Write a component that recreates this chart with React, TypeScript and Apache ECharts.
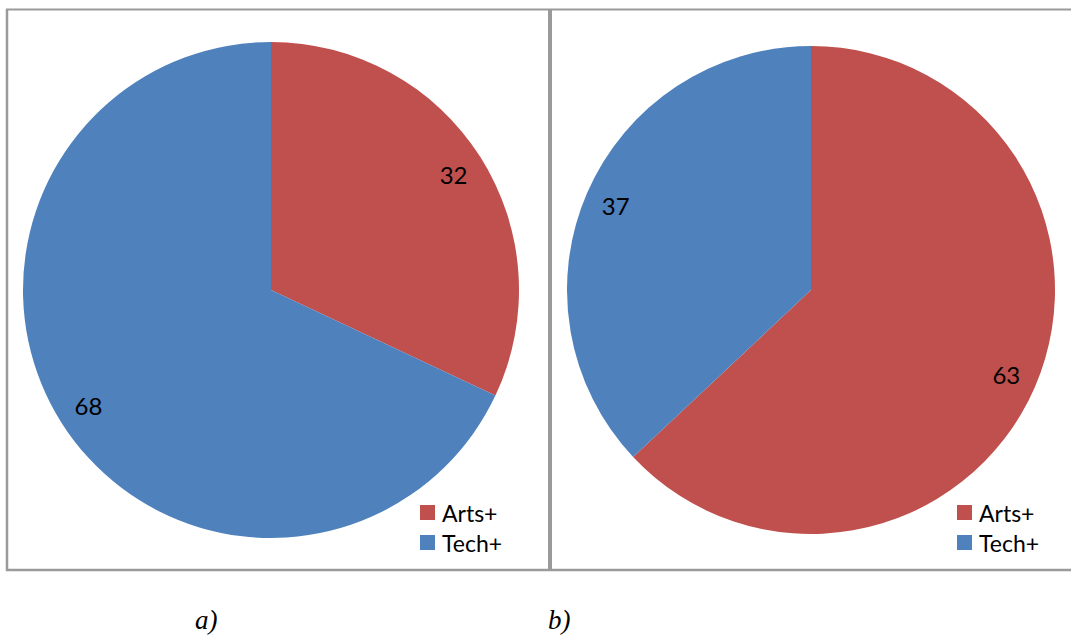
import React, { useEffect, useRef } from "react";
import * as echarts from "echarts";

const categories = ["Arts+", "Tech+"];
const valuesA = [32, 68];
const valuesB = [63, 37];
const captions = ["a)", "b)"];
const colors = ["#C0504D", "#4F81BD"];

const W = 1071;
const H = 637;
const FONT = "Lato, 'Noto Sans', sans-serif";
const BORDER = "#9a9a9a";

function pieData(values: number[]) {
  return categories.map((name, i) => ({ name, value: values[i], itemStyle: { color: colors[i] } }));
}

function basePie(values: number[], center: [number, number], r: number) {
  return {
    type: "pie",
    center,
    radius: [0, r],
    startAngle: 90,
    clockwise: true,
    label: { show: false },
    labelLine: { show: false },
    itemStyle: { borderWidth: 0 },
    emphasis: { disabled: true },
    data: pieData(values),
  };
}

// transparent ring that only carries the value labels near the rim
function labelRing(values: number[], center: [number, number], r: number) {
  return {
    type: "pie",
    center,
    radius: [r * 0.72, r],
    startAngle: 90,
    clockwise: true,
    silent: true,
    label: {
      show: true,
      position: "inside",
      formatter: "{c}",
      color: "#000",
      fontSize: 24,
      fontFamily: FONT,
    },
    labelLine: { show: false },
    itemStyle: { color: "rgba(0,0,0,0)", borderWidth: 0 },
    emphasis: { disabled: true },
    data: categories.map((name, i) => ({ name, value: values[i] })),
  };
}

function legend(left: number) {
  return {
    orient: "vertical",
    left,
    top: 496,
    icon: "rect",
    itemWidth: 15,
    itemHeight: 15,
    itemGap: 7,
    selectedMode: false,
    data: categories,
    textStyle: { color: "#000", fontSize: 23, fontFamily: FONT, padding: [0, 0, 0, 2] },
  };
}

function caption(text: string, left: number) {
  return {
    type: "text",
    left,
    top: 606,
    style: { text, fontSize: 27, fontStyle: "italic", fontFamily: "'Liberation Serif', serif", fill: "#000" },
  };
}

export default function App() {
  const ref = useRef<HTMLDivElement>(null);

  useEffect(() => {
    if (!ref.current) return;
    const chart = echarts.init(ref.current, null, { renderer: "svg" });
    chart.setOption({
      animation: false,
      backgroundColor: "#fff",
      legend: [legend(415), legend(952)],
      series: [
        basePie(valuesA, [271, 290], 248),
        basePie(valuesB, [811, 290], 244),
        labelRing(valuesA, [271, 290], 248),
        labelRing(valuesB, [811, 290], 244),
      ],
      graphic: [
        { type: "line", shape: { x1: 6, y1: 9.5, x2: W, y2: 9.5 }, style: { stroke: BORDER, lineWidth: 2 } },
        { type: "line", shape: { x1: 6, y1: 570, x2: W, y2: 570 }, style: { stroke: BORDER, lineWidth: 2.5 } },
        { type: "line", shape: { x1: 7, y1: 9, x2: 7, y2: 571 }, style: { stroke: BORDER, lineWidth: 2.5 } },
        { type: "line", shape: { x1: 550, y1: 9, x2: 550, y2: 571 }, style: { stroke: BORDER, lineWidth: 4 } },
        caption(captions[0], 195),
        caption(captions[1], 548),
      ],
    });
    return () => chart.dispose();
  }, []);

  return <div ref={ref} style={{ position: "fixed", left: 0, top: 0, width: W, height: H }} />;
}
